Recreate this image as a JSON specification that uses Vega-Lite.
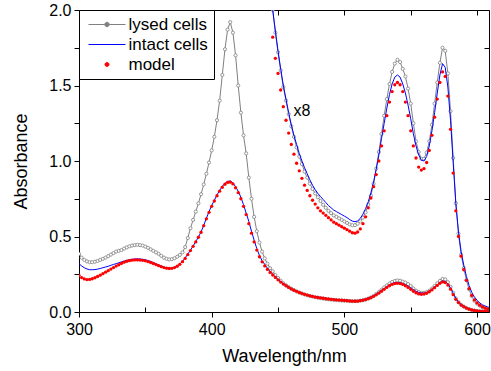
{
"$schema":"https://vega.github.io/schema/vega-lite/v6.json",
"width":410,"height":302,
"autosize":{"type":"none"},
"padding":{"left":79,"top":10,"right":2,"bottom":59},
"background":"white",
"config":{
"view":{"stroke":"black","strokeWidth":1},
"font":"Liberation Sans",
"axis":{"labelFont":"Liberation Sans","titleFont":"Liberation Sans","labelFontSize":16,"titleFontSize":18,"titleFontWeight":"normal","labelColor":"black","titleColor":"black","tickColor":"black","domainColor":"black","grid":false,"tickWidth":1}
},
"datasets":{
"one":[
{"w":300,"l":0.385,"i":0.32,"m":0.243},{"w":302,"l":0.36,"i":0.305,"m":0.228},{"w":304,"l":0.345,"i":0.293,"m":0.219},{"w":306,"l":0.335,"i":0.285,"m":0.215},{"w":308,"l":0.33,"i":0.28,"m":0.216},{"w":310,"l":0.33,"i":0.28,"m":0.22},{"w":312,"l":0.333,"i":0.281,"m":0.227},{"w":314,"l":0.338,"i":0.284,"m":0.235},{"w":316,"l":0.345,"i":0.288,"m":0.244},{"w":318,"l":0.352,"i":0.293,"m":0.254},
{"w":320,"l":0.36,"i":0.298,"m":0.264},{"w":322,"l":0.37,"i":0.303,"m":0.274},{"w":324,"l":0.38,"i":0.309,"m":0.284},{"w":326,"l":0.39,"i":0.315,"m":0.294},{"w":328,"l":0.4,"i":0.32,"m":0.304},{"w":330,"l":0.405,"i":0.326,"m":0.313},{"w":332,"l":0.41,"i":0.332,"m":0.322},{"w":334,"l":0.42,"i":0.337,"m":0.33},{"w":336,"l":0.428,"i":0.342,"m":0.336},{"w":338,"l":0.435,"i":0.346,"m":0.34},
{"w":340,"l":0.44,"i":0.349,"m":0.343},{"w":342,"l":0.443,"i":0.351,"m":0.345},{"w":344,"l":0.445,"i":0.352,"m":0.345},{"w":346,"l":0.443,"i":0.351,"m":0.344},{"w":348,"l":0.44,"i":0.349,"m":0.342},{"w":350,"l":0.433,"i":0.346,"m":0.339},{"w":352,"l":0.425,"i":0.341,"m":0.334},{"w":354,"l":0.415,"i":0.335,"m":0.328},{"w":356,"l":0.405,"i":0.328,"m":0.321},{"w":358,"l":0.395,"i":0.32,"m":0.314},
{"w":360,"l":0.385,"i":0.312,"m":0.307},{"w":362,"l":0.372,"i":0.304,"m":0.3},{"w":364,"l":0.36,"i":0.297,"m":0.294},{"w":366,"l":0.352,"i":0.292,"m":0.29},{"w":368,"l":0.348,"i":0.29,"m":0.288},{"w":370,"l":0.35,"i":0.291,"m":0.289},{"w":372,"l":0.356,"i":0.296,"m":0.294},{"w":374,"l":0.366,"i":0.305,"m":0.303},{"w":376,"l":0.378,"i":0.318,"m":0.316},{"w":378,"l":0.395,"i":0.335,"m":0.333},
{"w":380,"l":0.43,"i":0.358,"m":0.355},{"w":382,"l":0.49,"i":0.383,"m":0.38},{"w":384,"l":0.555,"i":0.41,"m":0.407},{"w":386,"l":0.61,"i":0.437,"m":0.435},{"w":388,"l":0.665,"i":0.466,"m":0.464},{"w":390,"l":0.72,"i":0.497,"m":0.495},{"w":392,"l":0.78,"i":0.53,"m":0.528},{"w":394,"l":0.845,"i":0.575,"m":0.572},{"w":396,"l":0.915,"i":0.62,"m":0.617},{"w":398,"l":0.99,"i":0.665,"m":0.66},
{"w":400,"l":1.07,"i":0.705,"m":0.7},{"w":402,"l":1.16,"i":0.74,"m":0.735},{"w":404,"l":1.27,"i":0.775,"m":0.77},{"w":406,"l":1.4,"i":0.805,"m":0.8},{"w":408,"l":1.57,"i":0.832,"m":0.826},{"w":410,"l":1.74,"i":0.852,"m":0.846},{"w":412,"l":1.87,"i":0.865,"m":0.858},{"w":414,"l":1.92,"i":0.868,"m":0.86},{"w":416,"l":1.85,"i":0.855,"m":0.848},{"w":418,"l":1.7,"i":0.83,"m":0.823},
{"w":420,"l":1.5,"i":0.8,"m":0.79},{"w":422,"l":1.32,"i":0.76,"m":0.75},{"w":424,"l":1.17,"i":0.71,"m":0.7},{"w":426,"l":1.05,"i":0.655,"m":0.645},{"w":428,"l":0.89,"i":0.6,"m":0.585},{"w":430,"l":0.75,"i":0.535,"m":0.522},{"w":432,"l":0.63,"i":0.475,"m":0.464},{"w":434,"l":0.535,"i":0.42,"m":0.41},{"w":436,"l":0.46,"i":0.375,"m":0.366},{"w":438,"l":0.4,"i":0.34,"m":0.332},
{"w":440,"l":0.355,"i":0.315,"m":0.305},{"w":442,"l":0.32,"i":0.29,"m":0.282},{"w":444,"l":0.29,"i":0.268,"m":0.262},{"w":446,"l":0.27,"i":0.25,"m":0.245},{"w":448,"l":0.245,"i":0.2325,"m":0.229},{"w":450,"l":0.225,"i":0.216,"m":0.213},{"w":452,"l":0.207,"i":0.201,"m":0.198},{"w":454,"l":0.19,"i":0.1875,"m":0.185},{"w":456,"l":0.177,"i":0.176,"m":0.174},{"w":458,"l":0.165,"i":0.165,"m":0.163},
{"w":460,"l":0.154,"i":0.155,"m":0.153},{"w":462,"l":0.145,"i":0.146,"m":0.144},{"w":464,"l":0.136,"i":0.139,"m":0.137},{"w":466,"l":0.129,"i":0.131,"m":0.129},{"w":468,"l":0.1225,"i":0.125,"m":0.123},{"w":470,"l":0.116,"i":0.119,"m":0.117},{"w":472,"l":0.111,"i":0.114,"m":0.112},{"w":474,"l":0.106,"i":0.109,"m":0.107},{"w":476,"l":0.102,"i":0.105,"m":0.103},{"w":478,"l":0.098,"i":0.101,"m":0.099},
{"w":480,"l":0.095,"i":0.098,"m":0.096},{"w":482,"l":0.092,"i":0.096,"m":0.093},{"w":484,"l":0.089,"i":0.093,"m":0.091},{"w":486,"l":0.086,"i":0.091,"m":0.088},{"w":488,"l":0.084,"i":0.088,"m":0.086},{"w":490,"l":0.082,"i":0.086,"m":0.084},{"w":492,"l":0.08,"i":0.084,"m":0.082},{"w":494,"l":0.079,"i":0.083,"m":0.08},{"w":496,"l":0.0775,"i":0.082,"m":0.079},{"w":498,"l":0.076,"i":0.081,"m":0.078},
{"w":500,"l":0.075,"i":0.079,"m":0.076},{"w":502,"l":0.074,"i":0.078,"m":0.075},{"w":504,"l":0.0725,"i":0.076,"m":0.073},{"w":506,"l":0.072,"i":0.075,"m":0.072},{"w":508,"l":0.072,"i":0.074,"m":0.071},{"w":510,"l":0.073,"i":0.075,"m":0.072},{"w":512,"l":0.075,"i":0.079,"m":0.075},{"w":514,"l":0.078,"i":0.082,"m":0.078},{"w":516,"l":0.0825,"i":0.086,"m":0.082},{"w":518,"l":0.089,"i":0.092,"m":0.088},
{"w":520,"l":0.096,"i":0.099,"m":0.095},{"w":522,"l":0.106,"i":0.108,"m":0.104},{"w":524,"l":0.119,"i":0.118,"m":0.114},{"w":526,"l":0.1325,"i":0.13,"m":0.125},{"w":528,"l":0.1475,"i":0.144,"m":0.1375},{"w":530,"l":0.1625,"i":0.156,"m":0.15},{"w":532,"l":0.176,"i":0.169,"m":0.1625},{"w":534,"l":0.189,"i":0.18,"m":0.174},{"w":536,"l":0.199,"i":0.189,"m":0.1825},{"w":538,"l":0.206,"i":0.194,"m":0.188},
{"w":540,"l":0.209,"i":0.196,"m":0.19},{"w":542,"l":0.207,"i":0.194,"m":0.188},{"w":544,"l":0.201,"i":0.189,"m":0.1825},{"w":546,"l":0.195,"i":0.181,"m":0.174},{"w":548,"l":0.185,"i":0.171,"m":0.1625},{"w":550,"l":0.1725,"i":0.16,"m":0.15},{"w":552,"l":0.156,"i":0.148,"m":0.1375},{"w":554,"l":0.141,"i":0.1375,"m":0.1275},{"w":556,"l":0.1325,"i":0.13,"m":0.12},{"w":558,"l":0.127,"i":0.126,"m":0.1175},
{"w":560,"l":0.127,"i":0.125,"m":0.119},{"w":562,"l":0.132,"i":0.129,"m":0.124},{"w":564,"l":0.141,"i":0.1375,"m":0.134},{"w":566,"l":0.155,"i":0.15,"m":0.146},{"w":568,"l":0.1725,"i":0.165,"m":0.161},{"w":570,"l":0.19,"i":0.181,"m":0.176},{"w":572,"l":0.206,"i":0.196,"m":0.19},{"w":574,"l":0.219,"i":0.206,"m":0.199},{"w":576,"l":0.216,"i":0.2025,"m":0.195},{"w":578,"l":0.1975,"i":0.186,"m":0.179},
{"w":580,"l":0.166,"i":0.159,"m":0.151},{"w":582,"l":0.1275,"i":0.124,"m":0.115},{"w":584,"l":0.09,"i":0.09,"m":0.084},{"w":586,"l":0.065,"i":0.066,"m":0.0625},{"w":588,"l":0.0475,"i":0.05,"m":0.046},{"w":590,"l":0.036,"i":0.039,"m":0.035},{"w":592,"l":0.026,"i":0.029,"m":0.026},{"w":594,"l":0.019,"i":0.022,"m":0.019},{"w":596,"l":0.013,"i":0.016,"m":0.014},{"w":598,"l":0.0094,"i":0.0125,"m":0.01},
{"w":600,"l":0.007,"i":0.01,"m":0.0075},{"w":602,"l":0.005,"i":0.0075,"m":0.0056},{"w":604,"l":0.004,"i":0.006,"m":0.0043},{"w":606,"l":0.003,"i":0.005,"m":0.0033},{"w":608,"l":0.0022,"i":0.004,"m":0.0025},{"w":610,"l":0.0018,"i":0.0035,"m":0.002}
],
"eight":[
{"w":440,"l":2.5,"i":2.45,"m":2.4},{"w":442,"l":2.32,"i":2.3,"m":2.2},{"w":444,"l":2.15,"i":2.14,"m":2.02},{"w":446,"l":2.0,"i":2.0,"m":1.82},{"w":448,"l":1.85,"i":1.86,"m":1.68},{"w":450,"l":1.72,"i":1.73,"m":1.58},{"w":452,"l":1.6,"i":1.61,"m":1.47},{"w":454,"l":1.49,"i":1.5,"m":1.36},{"w":456,"l":1.4,"i":1.41,"m":1.27},{"w":458,"l":1.31,"i":1.32,"m":1.185},
{"w":460,"l":1.23,"i":1.24,"m":1.11},{"w":462,"l":1.16,"i":1.17,"m":1.045},{"w":464,"l":1.09,"i":1.11,"m":0.985},{"w":466,"l":1.03,"i":1.05,"m":0.935},{"w":468,"l":0.98,"i":1.0,"m":0.885},{"w":470,"l":0.93,"i":0.955,"m":0.84},{"w":472,"l":0.89,"i":0.915,"m":0.805},{"w":474,"l":0.85,"i":0.875,"m":0.77},{"w":476,"l":0.815,"i":0.84,"m":0.74},{"w":478,"l":0.785,"i":0.81,"m":0.715},
{"w":480,"l":0.76,"i":0.785,"m":0.69},{"w":482,"l":0.735,"i":0.765,"m":0.67},{"w":484,"l":0.71,"i":0.745,"m":0.655},{"w":486,"l":0.69,"i":0.725,"m":0.64},{"w":488,"l":0.67,"i":0.705,"m":0.625},{"w":490,"l":0.655,"i":0.69,"m":0.61},{"w":492,"l":0.64,"i":0.675,"m":0.595},{"w":494,"l":0.63,"i":0.665,"m":0.585},{"w":496,"l":0.62,"i":0.655,"m":0.575},{"w":498,"l":0.61,"i":0.645,"m":0.565},
{"w":500,"l":0.6,"i":0.635,"m":0.555},{"w":502,"l":0.59,"i":0.625,"m":0.545},{"w":504,"l":0.58,"i":0.612,"m":0.535},{"w":506,"l":0.575,"i":0.602,"m":0.525},{"w":508,"l":0.575,"i":0.598,"m":0.522},{"w":510,"l":0.585,"i":0.603,"m":0.53},{"w":512,"l":0.6,"i":0.62,"m":0.55},{"w":514,"l":0.625,"i":0.648,"m":0.585},{"w":516,"l":0.66,"i":0.685,"m":0.63},{"w":518,"l":0.71,"i":0.73,"m":0.69},
{"w":520,"l":0.77,"i":0.79,"m":0.755},{"w":522,"l":0.85,"i":0.86,"m":0.83},{"w":524,"l":0.95,"i":0.945,"m":0.91},{"w":526,"l":1.06,"i":1.04,"m":1.0},{"w":528,"l":1.18,"i":1.15,"m":1.1},{"w":530,"l":1.3,"i":1.25,"m":1.2},{"w":532,"l":1.41,"i":1.35,"m":1.3},{"w":534,"l":1.51,"i":1.44,"m":1.39},{"w":536,"l":1.59,"i":1.51,"m":1.46},{"w":538,"l":1.645,"i":1.555,"m":1.505},
{"w":540,"l":1.67,"i":1.57,"m":1.52},{"w":542,"l":1.655,"i":1.555,"m":1.505},{"w":544,"l":1.61,"i":1.51,"m":1.46},{"w":546,"l":1.56,"i":1.45,"m":1.39},{"w":548,"l":1.48,"i":1.37,"m":1.3},{"w":550,"l":1.38,"i":1.28,"m":1.2},{"w":552,"l":1.25,"i":1.18,"m":1.1},{"w":554,"l":1.13,"i":1.1,"m":1.02},{"w":556,"l":1.06,"i":1.04,"m":0.96},{"w":558,"l":1.015,"i":1.005,"m":0.94},
{"w":560,"l":1.015,"i":1.0,"m":0.95},{"w":562,"l":1.055,"i":1.03,"m":0.99},{"w":564,"l":1.13,"i":1.1,"m":1.07},{"w":566,"l":1.24,"i":1.2,"m":1.17},{"w":568,"l":1.38,"i":1.32,"m":1.29},{"w":570,"l":1.52,"i":1.45,"m":1.41},{"w":572,"l":1.65,"i":1.57,"m":1.52},{"w":574,"l":1.75,"i":1.645,"m":1.59},{"w":576,"l":1.73,"i":1.62,"m":1.56},{"w":578,"l":1.58,"i":1.49,"m":1.43},
{"w":580,"l":1.33,"i":1.27,"m":1.21},{"w":582,"l":1.02,"i":0.99,"m":0.92},{"w":584,"l":0.72,"i":0.72,"m":0.67},{"w":586,"l":0.52,"i":0.53,"m":0.5},{"w":588,"l":0.38,"i":0.4,"m":0.37},{"w":590,"l":0.29,"i":0.31,"m":0.28},{"w":592,"l":0.21,"i":0.235,"m":0.21},{"w":594,"l":0.15,"i":0.175,"m":0.155},{"w":596,"l":0.105,"i":0.13,"m":0.11},{"w":598,"l":0.075,"i":0.1,"m":0.08},
{"w":600,"l":0.056,"i":0.078,"m":0.06},{"w":602,"l":0.042,"i":0.06,"m":0.045},{"w":604,"l":0.032,"i":0.048,"m":0.034},{"w":606,"l":0.024,"i":0.04,"m":0.026},{"w":608,"l":0.018,"i":0.033,"m":0.02},{"w":610,"l":0.014,"i":0.028,"m":0.016}
]
},
"resolve":{"axis":{"x":"independent","y":"independent"}},
"layer":[
{"data":{"name":"one"},
 "mark":{"type":"line","strokeWidth":1,"clip":true},
 "encoding":{
  "x":{"field":"w","type":"quantitative","scale":{"domain":[300,609],"nice":false,"zero":false},
   "axis":{"orient":"bottom","values":[300,400,500,600],"tickSize":5,"labelPadding":4,"labelFlush":false,"title":"Wavelength/nm","titlePadding":10,"domain":false}},
  "y":{"field":"l","type":"quantitative","scale":{"domain":[0,2],"nice":false},
   "axis":{"orient":"left","values":[0,0.25,0.5,0.75,1,1.25,1.5,1.75,2],"labelExpr":"(datum.value*2)%1===0 ? format(datum.value,'.1f') : ''","tickSize":5,"labelPadding":3,"title":"Absorbance","titlePadding":18,"domain":false}},
  "color":{"datum":"lysed cells","scale":{"domain":["lysed cells","intact cells","model"],"range":["#808080","#0000ff","#ff0000"]},
   "legend":{"orient":"top-left","offset":0,"title":null,"strokeColor":"black","fillColor":"white","padding":6,"labelFontSize":17,"labelFont":"Liberation Sans","labelColor":"black","labelOffset":13,"symbolSize":256,"symbolType":"stroke","symbolStrokeWidth":1,"symbolOffset":13.5,"rowPadding":2,
    "encode":{"symbols":{"update":{
     "shape":{"signal":"datum.value === 'model' ? 'M0.25,0A0.25,0.25,0,1,1,-0.25,0A0.25,0.25,0,1,1,0.25,0Z' : (datum.value === 'lysed cells' ? 'M-2.3125,0H-0.275A0.275,0.275,0,1,1,0.275,0A0.275,0.275,0,1,1,-0.275,0M0.275,0H2.3125' : 'M-2.3125,0H2.3125')"},
     "size":{"value":256},
     "fill":{"signal":"datum.value === 'model' ? '#ff0000' : (datum.value === 'lysed cells' ? '#ffffff' : 'transparent')"},
     "stroke":{"signal":"datum.value === 'model' ? 'transparent' : (datum.value === 'lysed cells' ? '#808080' : '#0000ff')"},
     "strokeWidth":{"value":1},
     "opacity":{"value":1}
    }}}}}
 }},
{"data":{"name":"eight"},
 "mark":{"type":"line","strokeWidth":1,"clip":true},
 "encoding":{
  "x":{"field":"w","type":"quantitative","axis":{"orient":"top","values":[300,350,400,450,500,550,600],"tickSize":-5,"labels":false,"title":null,"domain":false}},
  "y":{"field":"l","type":"quantitative","axis":{"orient":"right","values":[0,0.25,0.5,0.75,1,1.25,1.5,1.75,2],"tickSize":-5,"labels":false,"title":null,"domain":false}},
  "color":{"datum":"lysed cells"}
 }},
{"data":{"name":"one"},
 "mark":{"type":"point","shape":"circle","size":10,"filled":false,"stroke":"#808080","fill":"#ffffff","fillOpacity":1,"strokeWidth":0.8,"opacity":1,"clip":true},
 "encoding":{
  "x":{"field":"w","type":"quantitative","axis":{"orient":"bottom","values":[350,450,550],"tickSize":-5,"labels":false,"title":null,"domain":false}},
  "y":{"field":"l","type":"quantitative","axis":null}
 }},
{"data":{"name":"eight"},
 "mark":{"type":"point","shape":"circle","size":10,"filled":false,"stroke":"#808080","fill":"#ffffff","fillOpacity":1,"strokeWidth":0.8,"opacity":1,"clip":true},
 "encoding":{
  "x":{"field":"w","type":"quantitative","axis":null},
  "y":{"field":"l","type":"quantitative","axis":null}
 }},
{"data":{"name":"one"},
 "mark":{"type":"line","strokeWidth":1,"clip":true},
 "encoding":{
  "x":{"field":"w","type":"quantitative","axis":null},
  "y":{"field":"i","type":"quantitative","axis":null},
  "color":{"datum":"intact cells"}
 }},
{"data":{"name":"eight"},
 "mark":{"type":"line","strokeWidth":1,"clip":true},
 "encoding":{
  "x":{"field":"w","type":"quantitative","axis":null},
  "y":{"field":"i","type":"quantitative","axis":null},
  "color":{"datum":"intact cells"}
 }},
{"data":{"name":"one"},
 "mark":{"type":"point","shape":"circle","size":11,"filled":true,"opacity":1,"clip":true},
 "encoding":{
  "x":{"field":"w","type":"quantitative","axis":null},
  "y":{"field":"m","type":"quantitative","axis":null},
  "color":{"datum":"model"}
 }},
{"data":{"name":"eight"},
 "mark":{"type":"point","shape":"circle","size":11,"filled":true,"opacity":1,"clip":true},
 "encoding":{
  "x":{"field":"w","type":"quantitative","axis":null},
  "y":{"field":"m","type":"quantitative","axis":null},
  "color":{"datum":"model"}
 }},
{"data":{"values":[{}]},
 "mark":{"type":"text","font":"Liberation Sans","fontSize":16,"align":"center","baseline":"middle","color":"black"},
 "encoding":{
  "x":{"datum":468,"type":"quantitative","axis":null},
  "y":{"datum":1.33,"type":"quantitative","axis":null},
  "text":{"value":"x8"}
 }}
]
}
